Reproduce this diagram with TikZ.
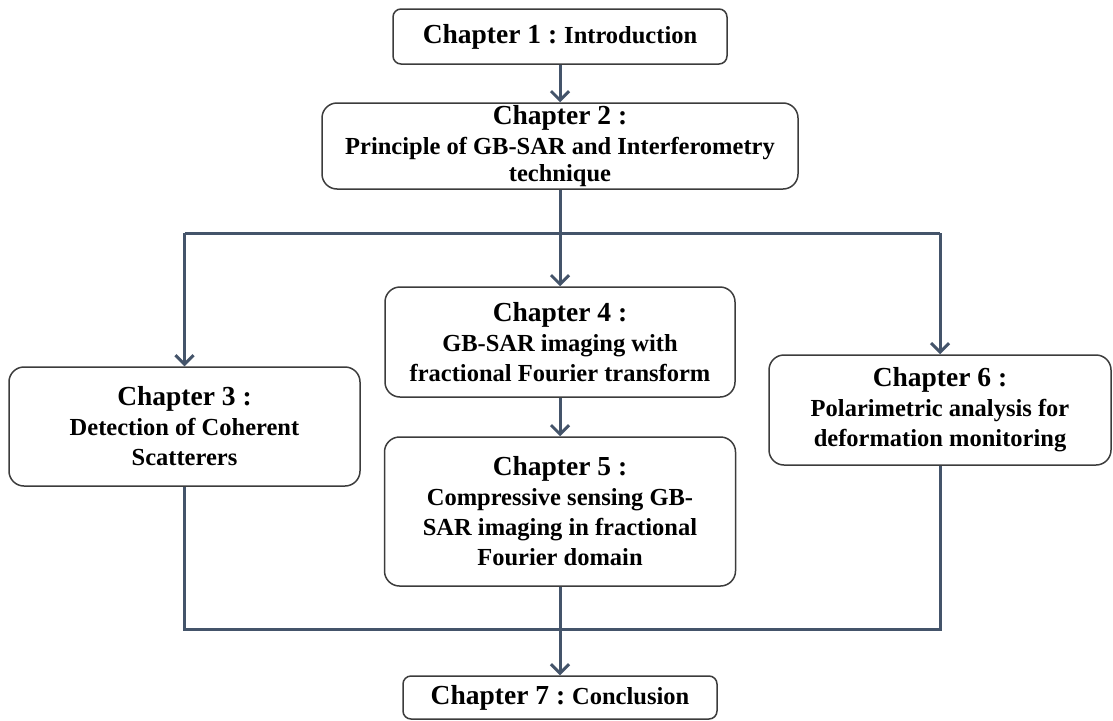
\documentclass[tikz,border=0pt]{standalone}
\usepackage{fontspec}
\setmainfont{Liberation Serif}
\usetikzlibrary{arrows.meta}
\definecolor{linec}{RGB}{68,84,106}
\definecolor{boxc}{RGB}{60,60,60}
\newcommand{\chbig}[1]{{\fontsize{27.5}{30}\selectfont\bfseries #1}}
\newcommand{\chsubfont}{\fontsize{24.5}{30}\selectfont\bfseries}
\tikzset{
  chbox/.style={draw=boxc, line width=1.5pt, rounded corners=15pt, fill=white,
    align=center, inner sep=0pt, text=black, font=\chsubfont},
  smallbox/.style={chbox, rounded corners=8pt},
  conn/.style={draw=linec, line width=3pt},
  arr/.style={conn, -{Straight Barb[length=9pt,width=18pt,line width=3pt]}},
}
\begin{document}
\begin{tikzpicture}[x=1pt,y=-1pt]
\useasboundingbox (0,0) rectangle (1113,720);
\node[smallbox, minimum width=334pt, minimum height=55pt] (ch1) at (560,36.5)
  {\chbig{Chapter 1 :}\hspace{7pt}Introduction};
\node[chbox, minimum width=476pt, minimum height=86pt] (ch2) at (560,146)
  {\chbig{Chapter 2 :}\\Principle of GB-SAR and Interferometry\\[-3pt]technique};
\node[chbox, minimum width=351pt, minimum height=119pt] (ch3) at (184.5,426.5)
  {\chbig{Chapter 3 :}\\Detection of Coherent\\Scatterers};
\node[chbox, minimum width=350pt, minimum height=110pt] (ch4) at (560,342)
  {\chbig{Chapter 4 :}\\GB-SAR imaging with\\fractional Fourier transform};
\node[chbox, minimum width=351pt, minimum height=149pt] (ch5) at (560,511.5)
  {\chbig{Chapter 5 :}\\Compressive sensing GB-\\SAR imaging in fractional\\Fourier domain};
\node[chbox, minimum width=342pt, minimum height=110pt] (ch6) at (940,410)
  {\chbig{Chapter 6 :}\\Polarimetric analysis for\\deformation monitoring};
\node[smallbox, minimum width=314pt, minimum height=43pt] (ch7) at (560,697.5)
  {\chbig{Chapter 7 :}\hspace{7pt}Conclusion};
\coordinate (top) at (560,233);
\coordinate (bot) at (560,629);
\draw[arr] (ch1.south) -- (ch2.north);
\draw[arr] (ch2.south) -- (ch4.north);
\draw[conn] (ch3.north |- top) -- (ch6.north |- top);
\draw[arr] (ch3.north |- top) -- (ch3.north);
\draw[arr] (ch6.north |- top) -- (ch6.north);
\draw[arr] (ch4.south) -- (ch5.north);
\draw[conn] (ch3.south) |- (ch6.south |- bot) -- (ch6.south);
\draw[arr] (ch5.south) -- (ch7.north);
\end{tikzpicture}
\end{document}
